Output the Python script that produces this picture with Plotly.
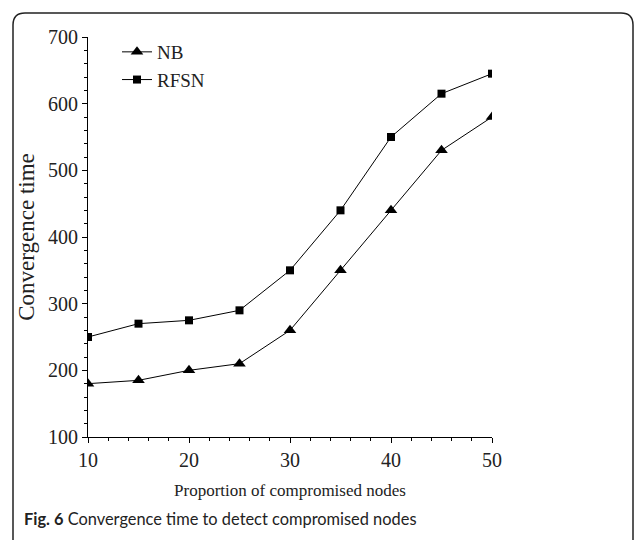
import plotly.graph_objects as go

proportion = [10, 15, 20, 25, 30, 35, 40, 45, 50]
nb_time = [180, 185, 200, 210, 260, 350, 440, 530, 580]
rfsn_time = [250, 270, 275, 290, 350, 440, 550, 615, 645]
y_ticks = [100, 200, 300, 400, 500, 600, 700]
x_ticks = [10, 20, 30, 40, 50]

W, H = 637, 540
L, R, T, B = 88, 492, 37, 437

def px2paper_x(px):
    return (px - L) / (R - L)

def px2paper_y(py):
    return (B - py) / (B - T)

serif = "Liberation Serif, Times New Roman, serif"

fig = go.Figure()
fig.add_trace(go.Scatter(
    x=proportion, y=nb_time, name="NB", mode="lines+markers",
    line=dict(color="black", width=1),
    marker=dict(symbol="triangle-up", size=11, color="black"),
))
fig.add_trace(go.Scatter(
    x=proportion, y=rfsn_time, name="RFSN", mode="lines+markers",
    line=dict(color="black", width=1),
    marker=dict(symbol="square", size=8, color="black"),
))

# rounded outer frame (pixel geometry converted to paper coords)
x0p, x1p, y0p, y1p, rad = 13, 633, 13, 560, 12
def P(px, py):
    return f"{px2paper_x(px):.5f},{px2paper_y(py):.5f}"
path = (f"M {P(x0p, y1p)} L {P(x0p, y0p + rad)} Q {P(x0p, y0p)} {P(x0p + rad, y0p)} "
        f"L {P(x1p - rad, y0p)} Q {P(x1p, y0p)} {P(x1p, y0p + rad)} L {P(x1p, y1p)}")
fig.add_shape(type="path", path=path, xref="paper", yref="paper",
              line=dict(color="#222", width=1.5))

fig.add_annotation(
    text="<b>Fig. 6</b> Convergence time to detect compromised nodes",
    xref="paper", yref="paper", x=px2paper_x(22), y=px2paper_y(518),
    xanchor="left", yanchor="middle", showarrow=False,
    font=dict(family="Lato, Open Sans, sans-serif", size=16.4, color="#222"),
)

fig.update_layout(
    width=W, height=H,
    margin=dict(l=L, r=W - R, t=T, b=H - B),
    paper_bgcolor="white", plot_bgcolor="white",
    font=dict(family=serif, size=19, color="#222"),
    showlegend=True,
    legend=dict(x=px2paper_x(117), y=px2paper_y(33), xanchor="left", yanchor="top",
                bgcolor="rgba(0,0,0,0)", font=dict(family=serif, size=19),
                itemwidth=30, tracegroupgap=0),
    xaxis=dict(
        range=[10, 50], tickvals=x_ticks, showgrid=False, zeroline=False,
        showline=True, linecolor="black", linewidth=1,
        ticks="outside", ticklen=5, tickcolor="black",
        minor=dict(dtick=2, ticks="outside", ticklen=3, tickcolor="black"),
        title=dict(text="Proportion of compromised nodes", font=dict(size=17), standoff=14),
        tickfont=dict(size=20),
    ),
    yaxis=dict(
        range=[100, 700], tickvals=y_ticks, showgrid=False, zeroline=False,
        showline=True, linecolor="black", linewidth=1,
        ticks="outside", ticklen=5, tickcolor="black",
        minor=dict(dtick=20, ticks="outside", ticklen=3, tickcolor="black"),
        title=dict(text="Convergence time", font=dict(size=23), standoff=6),
        tickfont=dict(size=20),
    ),
)

fig.write_html("out.html", config={"displayModeBar": False},
               post_script="document.body.style.margin='0';")
